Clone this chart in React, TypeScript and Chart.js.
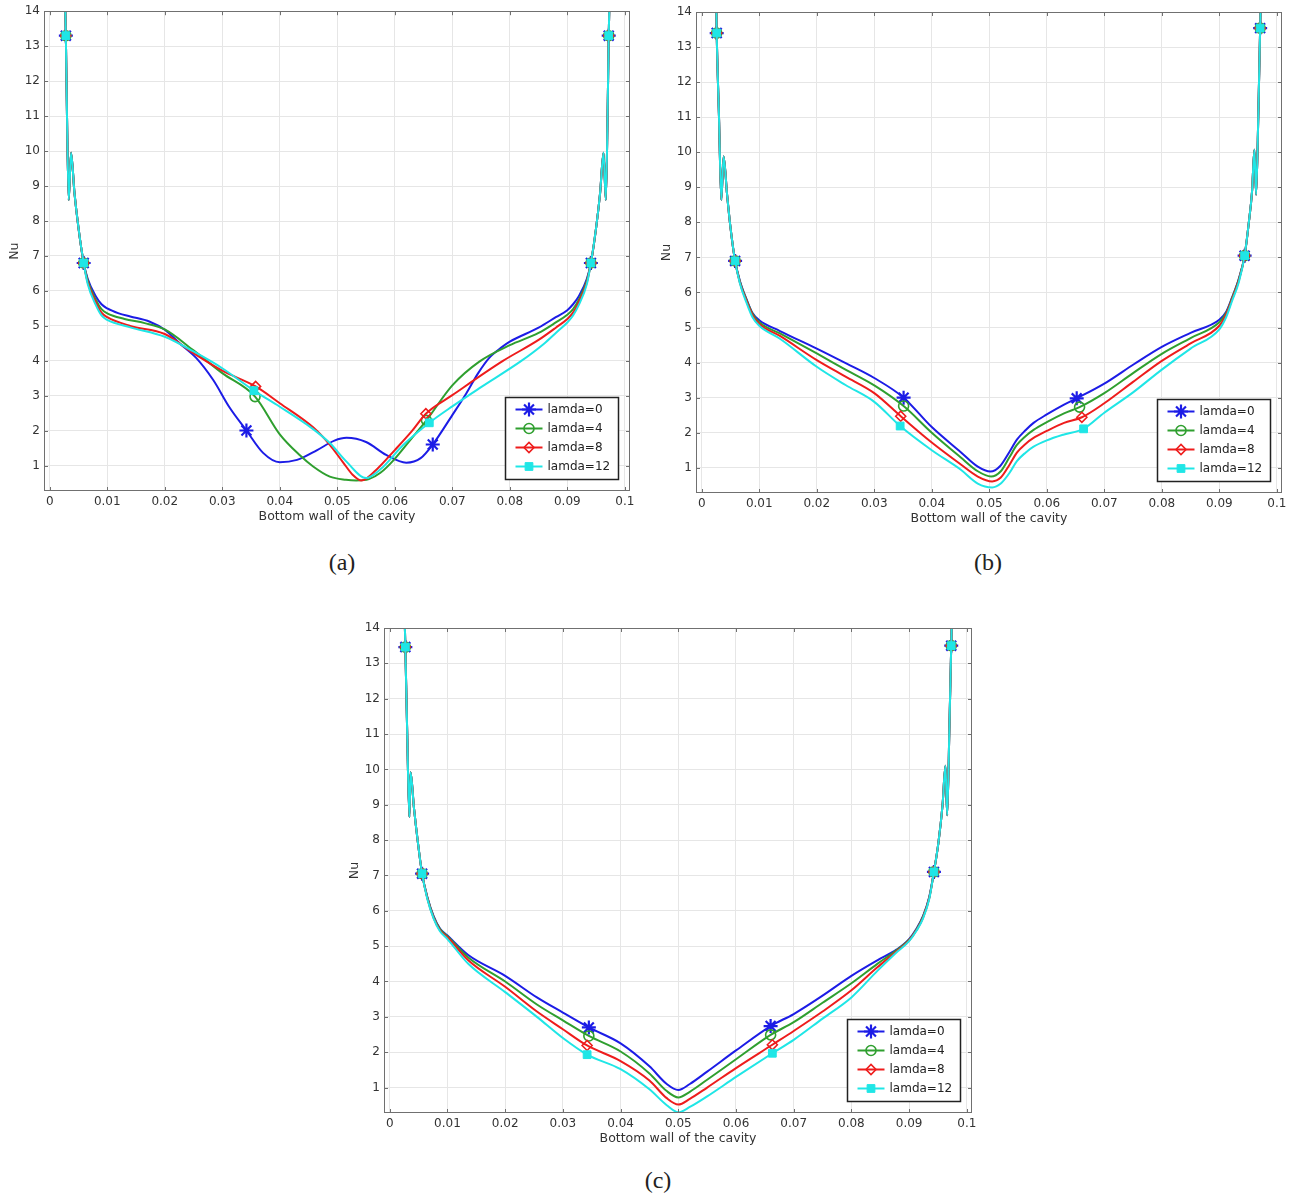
import React, { useEffect, useRef } from 'react';
import { Chart, registerables } from 'chart.js';
import { drawPoint } from 'chart.js/helpers';

Chart.register(...registerables);

type Pt = [number, number];

// ---------- axes ----------
const X_MIN = -0.001;
const X_MAX = 0.1009;
const Y_MIN = 0.28;
const Y_MAX = 14;
const X_TICKS = [0, 0.01, 0.02, 0.03, 0.04, 0.05, 0.06, 0.07, 0.08, 0.09, 0.1];
const X_TICK_LABELS = ['0', '0.01', '0.02', '0.03', '0.04', '0.05', '0.06', '0.07', '0.08', '0.09', '0.1'];
const Y_TICKS = [1, 2, 3, 4, 5, 6, 7, 8, 9, 10, 11, 12, 13, 14];
const Y_TICK_LABELS = ['1', '2', '3', '4', '5', '6', '7', '8', '9', '10', '11', '12', '13', '14'];
const X_TITLE = 'Bottom wall of the cavity';
const Y_TITLE = 'Nu';
const SERIES_LABELS = ['lamda=0', 'lamda=4', 'lamda=8', 'lamda=12'];
const PANEL_LABELS = ['(a)', '(b)', '(c)'];

// ---------- panel (a) ----------
const A_WALL_L: Pt[] = [[0.0025, 15.5], [0.0028, 13.3], [0.0030, 11.0], [0.0033, 8.6], [0.0037, 9.95], [0.0043, 8.8], [0.0050, 7.8], [0.0059, 6.8]];
const A_WALL_R: Pt[] = [[0.0941, 6.8], [0.0950, 7.8], [0.0957, 8.8], [0.0963, 9.95], [0.0967, 8.6], [0.0970, 11.0], [0.0972, 13.3], [0.0975, 15.5]];
const A_L0: Pt[] = [[0.0066, 6.35], [0.0080, 5.85], [0.0090, 5.62], [0.010, 5.5], [0.012, 5.36], [0.014, 5.27], [0.0174, 5.12], [0.020, 4.89], [0.0226, 4.5], [0.0255, 4.08], [0.0284, 3.46], [0.0313, 2.66], [0.0342, 2.01], [0.0371, 1.37], [0.040, 1.1], [0.043, 1.17], [0.0465, 1.45], [0.0495, 1.72], [0.0516, 1.8], [0.055, 1.68], [0.0585, 1.31], [0.062, 1.09], [0.0645, 1.22], [0.0666, 1.61], [0.070, 2.45], [0.0724, 3.06], [0.0745, 3.65], [0.0765, 4.1], [0.0785, 4.38], [0.080, 4.55], [0.085, 4.95], [0.088, 5.25], [0.090, 5.45], [0.091, 5.62], [0.092, 5.85], [0.0934, 6.35]];
const A_L4: Pt[] = [[0.0066, 6.3], [0.0080, 5.75], [0.0090, 5.48], [0.010, 5.36], [0.013, 5.2], [0.0165, 5.08], [0.020, 4.9], [0.025, 4.3], [0.030, 3.65], [0.0357, 2.98], [0.040, 1.9], [0.0435, 1.3], [0.0458, 0.98], [0.0487, 0.69], [0.0515, 0.6], [0.0533, 0.58], [0.0555, 0.62], [0.0575, 0.8], [0.060, 1.2], [0.063, 1.8], [0.0655, 2.3], [0.070, 3.3], [0.0747, 3.98], [0.080, 4.45], [0.085, 4.8], [0.088, 5.1], [0.090, 5.32], [0.091, 5.48], [0.092, 5.75], [0.0934, 6.3]];
const A_L8: Pt[] = [[0.0066, 6.25], [0.0080, 5.68], [0.0090, 5.38], [0.010, 5.25], [0.014, 5.0], [0.020, 4.77], [0.025, 4.22], [0.030, 3.72], [0.0358, 3.27], [0.040, 2.79], [0.0458, 2.1], [0.0487, 1.6], [0.051, 1.1], [0.0527, 0.74], [0.0542, 0.58], [0.0568, 0.89], [0.060, 1.45], [0.063, 2.0], [0.0654, 2.49], [0.070, 3.02], [0.0788, 4.0], [0.085, 4.6], [0.088, 4.95], [0.090, 5.2], [0.091, 5.38], [0.092, 5.68], [0.0934, 6.25]];
const A_L12: Pt[] = [[0.0066, 6.2], [0.0080, 5.6], [0.0090, 5.3], [0.010, 5.17], [0.014, 4.96], [0.020, 4.69], [0.025, 4.27], [0.030, 3.79], [0.0355, 3.15], [0.040, 2.69], [0.0458, 2.05], [0.0487, 1.65], [0.0516, 1.12], [0.055, 0.65], [0.0575, 0.9], [0.0615, 1.6], [0.066, 2.23], [0.070, 2.7], [0.075, 3.25], [0.082, 4.0], [0.086, 4.5], [0.088, 4.8], [0.090, 5.1], [0.091, 5.3], [0.092, 5.6], [0.0934, 6.2]];
const A_MARKS_L0 = [0.0028, 0.0059, 0.0342, 0.0666, 0.0941, 0.0972];
const A_MARKS_L4 = [0.0028, 0.0059, 0.0357, 0.0655, 0.0941, 0.0972];
const A_MARKS_L8 = [0.0028, 0.0059, 0.0358, 0.0654, 0.0941, 0.0972];
const A_MARKS_L12 = [0.0028, 0.0059, 0.0355, 0.066, 0.0941, 0.0972];

// ---------- panel (b) ----------
const B_WALL_L: Pt[] = [[0.0024, 15.5], [0.0026, 13.4], [0.0030, 11.0], [0.0034, 8.64], [0.0038, 9.88], [0.0044, 8.8], [0.0050, 7.85], [0.0058, 6.9]];
const B_WALL_R: Pt[] = [[0.0944, 7.05], [0.0951, 7.95], [0.0957, 8.9], [0.0961, 10.07], [0.0964, 8.79], [0.0968, 11.2], [0.0971, 13.54], [0.0974, 15.5]];
const B_L0: Pt[] = [[0.0066, 6.35], [0.0078, 5.8], [0.0088, 5.42], [0.010, 5.21], [0.0136, 4.9], [0.020, 4.4], [0.0252, 3.97], [0.030, 3.56], [0.0351, 3.0], [0.040, 2.16], [0.045, 1.45], [0.048, 1.03], [0.0502, 0.89], [0.0519, 1.05], [0.0535, 1.45], [0.0548, 1.8], [0.0563, 2.07], [0.0577, 2.28], [0.060, 2.52], [0.063, 2.8], [0.0652, 2.98], [0.070, 3.4], [0.0752, 3.96], [0.080, 4.45], [0.085, 4.85], [0.090, 5.22], [0.0912, 5.45], [0.0922, 5.85], [0.0934, 6.4]];
const B_L4: Pt[] = [[0.0066, 6.33], [0.0078, 5.78], [0.0088, 5.4], [0.010, 5.15], [0.0136, 4.83], [0.020, 4.26], [0.025, 3.8], [0.030, 3.35], [0.0351, 2.76], [0.040, 2.0], [0.045, 1.3], [0.048, 0.9], [0.0503, 0.75], [0.052, 0.9], [0.0535, 1.3], [0.0548, 1.65], [0.0563, 1.9], [0.0577, 2.08], [0.060, 2.3], [0.063, 2.55], [0.0657, 2.73], [0.070, 3.13], [0.075, 3.7], [0.080, 4.25], [0.085, 4.7], [0.090, 5.15], [0.0912, 5.42], [0.0922, 5.83], [0.0934, 6.38]];
const B_L8: Pt[] = [[0.0066, 6.3], [0.0078, 5.75], [0.0088, 5.36], [0.010, 5.1], [0.0136, 4.76], [0.020, 4.07], [0.025, 3.6], [0.030, 3.13], [0.0346, 2.47], [0.040, 1.72], [0.045, 1.1], [0.048, 0.75], [0.0505, 0.61], [0.052, 0.72], [0.0535, 1.08], [0.0548, 1.43], [0.0563, 1.68], [0.0577, 1.85], [0.060, 2.05], [0.063, 2.28], [0.0661, 2.44], [0.070, 2.84], [0.075, 3.45], [0.080, 4.05], [0.085, 4.55], [0.090, 5.05], [0.0912, 5.38], [0.0922, 5.8], [0.0934, 6.35]];
const B_L12: Pt[] = [[0.0066, 6.28], [0.0078, 5.7], [0.0088, 5.3], [0.010, 5.05], [0.0136, 4.68], [0.020, 3.88], [0.025, 3.36], [0.030, 2.88], [0.0345, 2.19], [0.040, 1.5], [0.045, 0.95], [0.048, 0.55], [0.0505, 0.44], [0.052, 0.55], [0.0535, 0.85], [0.0548, 1.19], [0.0563, 1.43], [0.0577, 1.6], [0.060, 1.78], [0.063, 1.95], [0.0664, 2.11], [0.070, 2.57], [0.075, 3.15], [0.080, 3.8], [0.085, 4.4], [0.090, 4.95], [0.0912, 5.3], [0.0922, 5.75], [0.0934, 6.3]];
const B_MARKS_L0 = [0.0026, 0.0058, 0.0351, 0.0652, 0.0944, 0.0971];
const B_MARKS_L4 = [0.0026, 0.0058, 0.0351, 0.0657, 0.0944, 0.0971];
const B_MARKS_L8 = [0.0026, 0.0058, 0.0346, 0.0661, 0.0944, 0.0971];
const B_MARKS_L12 = [0.0026, 0.0058, 0.0345, 0.0664, 0.0944, 0.0971];

// ---------- panel (c) ----------
const C_WALL_L: Pt[] = [[0.0024, 15.5], [0.0027, 13.46], [0.0030, 11.2], [0.0034, 8.65], [0.0036, 9.92], [0.0042, 8.9], [0.0049, 7.9], [0.0056, 7.05]];
const C_WALL_R: Pt[] = [[0.0943, 7.1], [0.0951, 7.95], [0.0958, 9.0], [0.0963, 10.1], [0.0966, 8.7], [0.0970, 11.3], [0.0973, 13.5], [0.0976, 15.5]];
const C_L0: Pt[] = [[0.0065, 6.4], [0.0076, 5.85], [0.0087, 5.5], [0.010, 5.3], [0.0136, 4.75], [0.020, 4.16], [0.0255, 3.55], [0.030, 3.12], [0.0345, 2.7], [0.040, 2.25], [0.045, 1.6], [0.048, 1.1], [0.050, 0.93], [0.052, 1.1], [0.055, 1.45], [0.060, 2.05], [0.066, 2.74], [0.070, 3.08], [0.075, 3.6], [0.080, 4.16], [0.0845, 4.6], [0.0878, 4.9], [0.090, 5.2], [0.0913, 5.5], [0.0924, 5.85], [0.0935, 6.4]];
const C_L4: Pt[] = [[0.0065, 6.38], [0.0076, 5.83], [0.0087, 5.48], [0.010, 5.28], [0.0136, 4.68], [0.020, 4.0], [0.0255, 3.35], [0.030, 2.9], [0.0345, 2.46], [0.040, 2.02], [0.045, 1.4], [0.048, 0.9], [0.050, 0.72], [0.052, 0.88], [0.055, 1.22], [0.060, 1.8], [0.066, 2.49], [0.070, 2.85], [0.075, 3.4], [0.080, 3.95], [0.0845, 4.5], [0.0878, 4.88], [0.090, 5.18], [0.0913, 5.48], [0.0924, 5.83], [0.0935, 6.38]];
const C_L8: Pt[] = [[0.0065, 6.36], [0.0076, 5.8], [0.0087, 5.45], [0.010, 5.25], [0.0136, 4.6], [0.020, 3.85], [0.0255, 3.15], [0.030, 2.65], [0.0342, 2.19], [0.040, 1.75], [0.045, 1.2], [0.048, 0.7], [0.050, 0.52], [0.052, 0.68], [0.055, 1.0], [0.060, 1.55], [0.0663, 2.21], [0.070, 2.6], [0.075, 3.15], [0.080, 3.75], [0.0845, 4.4], [0.0878, 4.85], [0.090, 5.16], [0.0913, 5.46], [0.0924, 5.8], [0.0935, 6.36]];
const C_L12: Pt[] = [[0.0065, 6.34], [0.0076, 5.78], [0.0087, 5.42], [0.010, 5.2], [0.0136, 4.5], [0.020, 3.7], [0.0255, 3.0], [0.030, 2.4], [0.0342, 1.93], [0.040, 1.52], [0.045, 0.95], [0.048, 0.5], [0.050, 0.3], [0.052, 0.45], [0.055, 0.75], [0.060, 1.3], [0.0663, 1.97], [0.070, 2.35], [0.075, 2.95], [0.080, 3.55], [0.0845, 4.3], [0.0878, 4.82], [0.090, 5.14], [0.0913, 5.44], [0.0924, 5.78], [0.0935, 6.34]];
const C_MARKS_L0 = [0.0027, 0.0056, 0.0345, 0.066, 0.0943, 0.0973];
const C_MARKS_L4 = [0.0027, 0.0056, 0.0345, 0.066, 0.0943, 0.0973];
const C_MARKS_L8 = [0.0027, 0.0056, 0.0342, 0.0663, 0.0943, 0.0973];
const C_MARKS_L12 = [0.0027, 0.0056, 0.0342, 0.0663, 0.0943, 0.0973];

// ---------- styles ----------
const COLORS = ['#1c1ce6', '#2f9f2f', '#ee1c1c', '#1fe6e6'];
const POINT_STYLES = ['star', 'circle', 'rectRot', 'rect'];
const POINT_RADII = [7, 5, 5, 5.5];
const POINT_BW = [2.2, 1.6, 1.6, 1];
const POINT_FILL = ['#1c1ce6', 'rgba(0,0,0,0)', 'rgba(0,0,0,0)', '#1fe6e6'];
const FONT = '"DejaVu Sans", "Noto Sans", sans-serif';

type Series = { points: Pt[]; marks: number[] };
type PanelCfg = {
  left: number; top: number; w: number; h: number;
  pad: { left: number; top: number; right: number; bottom: number };
  series: Series[];
};

const PANELS: PanelCfg[] = [
  {
    left: 0, top: 0, w: 640, h: 540,
    pad: { left: 0, top: 11, right: 10, bottom: 16 },
    series: [
      { points: [...A_WALL_L, ...A_L0, ...A_WALL_R], marks: A_MARKS_L0 },
      { points: [...A_WALL_L, ...A_L4, ...A_WALL_R], marks: A_MARKS_L4 },
      { points: [...A_WALL_L, ...A_L8, ...A_WALL_R], marks: A_MARKS_L8 },
      { points: [...A_WALL_L, ...A_L12, ...A_WALL_R], marks: A_MARKS_L12 },
    ],
  },
  {
    left: 652, top: 0, w: 642, h: 540,
    pad: { left: 0, top: 12, right: 12, bottom: 14 },
    series: [
      { points: [...B_WALL_L, ...B_L0, ...B_WALL_R], marks: B_MARKS_L0 },
      { points: [...B_WALL_L, ...B_L4, ...B_WALL_R], marks: B_MARKS_L4 },
      { points: [...B_WALL_L, ...B_L8, ...B_WALL_R], marks: B_MARKS_L8 },
      { points: [...B_WALL_L, ...B_L12, ...B_WALL_R], marks: B_MARKS_L12 },
    ],
  },
  {
    left: 340, top: 616, w: 642, h: 540,
    pad: { left: 0, top: 12, right: 10, bottom: 10 },
    series: [
      { points: [...C_WALL_L, ...C_L0, ...C_WALL_R], marks: C_MARKS_L0 },
      { points: [...C_WALL_L, ...C_L4, ...C_WALL_R], marks: C_MARKS_L4 },
      { points: [...C_WALL_L, ...C_L8, ...C_WALL_R], marks: C_MARKS_L8 },
      { points: [...C_WALL_L, ...C_L12, ...C_WALL_R], marks: C_MARKS_L12 },
    ],
  },
];

const LABEL_POS = [
  { x: 342, y: 562 },
  { x: 988, y: 562 },
  { x: 658, y: 1180 },
];

const framePlugin = {
  id: 'frameAndLegend',
  afterDraw(chart: any) {
    const { ctx, chartArea: ca } = chart;
    const xs = chart.scales.x;
    const ys = chart.scales.y;
    ctx.save();
    // frame
    ctx.strokeStyle = '#707070';
    ctx.lineWidth = 1;
    ctx.strokeRect(Math.round(ca.left) + 0.5, Math.round(ca.top) + 0.5, Math.round(ca.right - ca.left) - 1, Math.round(ca.bottom - ca.top) - 1);
    // inward tick marks
    ctx.beginPath();
    X_TICKS.forEach((v) => {
      const px = Math.round(xs.getPixelForValue(v)) + 0.5;
      ctx.moveTo(px, ca.top); ctx.lineTo(px, ca.top + 4);
      ctx.moveTo(px, ca.bottom); ctx.lineTo(px, ca.bottom - 4);
    });
    Y_TICKS.forEach((v) => {
      const py = Math.round(ys.getPixelForValue(v)) + 0.5;
      ctx.moveTo(ca.left, py); ctx.lineTo(ca.left + 4, py);
      ctx.moveTo(ca.right, py); ctx.lineTo(ca.right - 4, py);
    });
    ctx.stroke();
    // legend box
    const w = 113;
    const h = 82;
    const lx = Math.round(ca.right - 12 - w) + 0.5;
    const ly = Math.round(ca.bottom - 12 - h) + 0.5;
    ctx.fillStyle = '#ffffff';
    ctx.fillRect(lx, ly, w, h);
    ctx.strokeStyle = '#222222';
    ctx.lineWidth = 1.5;
    ctx.strokeRect(lx, ly, w, h);
    chart.data.datasets.forEach((ds: any, i: number) => {
      const yy = ly + 12 + i * 19;
      ctx.strokeStyle = COLORS[i];
      ctx.lineWidth = 2;
      ctx.beginPath();
      ctx.moveTo(lx + 10, yy);
      ctx.lineTo(lx + 37, yy);
      ctx.stroke();
      ctx.fillStyle = POINT_FILL[i];
      ctx.strokeStyle = COLORS[i];
      ctx.lineWidth = POINT_BW[i];
      drawPoint(ctx, { pointStyle: POINT_STYLES[i] as any, radius: POINT_RADII[i], borderWidth: POINT_BW[i], rotation: 0 } as any, lx + 23.5, yy);
      ctx.fillStyle = '#222222';
      ctx.font = '12px ' + FONT;
      ctx.textBaseline = 'middle';
      ctx.textAlign = 'left';
      ctx.fillText(ds.label, lx + 42, yy + 0.5);
    });
    ctx.restore();
  },
};

function Panel({ cfg }: { cfg: PanelCfg }) {
  const ref = useRef<HTMLCanvasElement | null>(null);
  useEffect(() => {
    if (!ref.current) return;
    const chart = new Chart(ref.current, {
      type: 'line',
      data: {
        datasets: cfg.series.map((s, i) => ({
          label: SERIES_LABELS[i],
          data: s.points.map(([x, y]) => ({ x, y })),
          borderColor: COLORS[i],
          backgroundColor: POINT_FILL[i],
          borderWidth: 2,
          fill: false,
          cubicInterpolationMode: 'monotone' as const,
          pointStyle: POINT_STYLES[i] as any,
          pointRadius: (c: any) => (c.raw && s.marks.includes(c.raw.x) ? POINT_RADII[i] : 0),
          pointBorderColor: COLORS[i],
          pointBackgroundColor: POINT_FILL[i],
          pointBorderWidth: POINT_BW[i],
          order: 3 - i,
        })),
      },
      options: {
        animation: false,
        responsive: false,
        maintainAspectRatio: false,
        events: [],
        layout: { padding: cfg.pad },
        plugins: { legend: { display: false }, tooltip: { enabled: false } },
        scales: {
          x: {
            type: 'linear',
            min: X_MIN,
            max: X_MAX,
            afterBuildTicks: (sc: any) => { sc.ticks = X_TICKS.map((v) => ({ value: v })); },
            afterFit: (sc: any) => { sc.height = 33; },
            ticks: {
              callback: (_v: any, i: number) => X_TICK_LABELS[i],
              autoSkip: false, maxRotation: 0, minRotation: 0,
              padding: 4, color: '#333333', font: { family: FONT, size: 12 },
            },
            grid: { color: '#e6e6e6', lineWidth: 1, drawTicks: false },
            border: { display: false },
            title: { display: true, text: X_TITLE, color: '#333333', font: { family: FONT, size: 12.5 }, padding: { top: 0, bottom: 0 } },
          },
          y: {
            type: 'linear',
            min: Y_MIN,
            max: Y_MAX,
            afterBuildTicks: (sc: any) => { sc.ticks = Y_TICKS.map((v) => ({ value: v })); },
            afterFit: (sc: any) => { sc.width = 44; },
            ticks: {
              callback: (_v: any, i: number) => Y_TICK_LABELS[i],
              autoSkip: false,
              padding: 4, color: '#333333', font: { family: FONT, size: 12 },
            },
            grid: { color: '#e6e6e6', lineWidth: 1, drawTicks: false },
            border: { display: false },
            title: { display: true, text: Y_TITLE, color: '#333333', font: { family: FONT, size: 12.5 }, padding: { top: 7, bottom: 0 } },
          },
        },
      } as any,
      plugins: [framePlugin],
    });
    return () => chart.destroy();
  }, [cfg]);
  return (
    <canvas
      ref={ref}
      width={cfg.w}
      height={cfg.h}
      style={{ position: 'absolute', left: cfg.left, top: cfg.top, width: cfg.w, height: cfg.h }}
    />
  );
}

export default function App() {
  return (
    <div style={{ position: 'absolute', left: 0, top: 0, width: 1294, height: 1194, background: '#ffffff', overflow: 'hidden' }}>
      {PANELS.map((p, i) => (
        <Panel key={i} cfg={p} />
      ))}
      {PANEL_LABELS.map((t, i) => (
        <div
          key={t}
          style={{
            position: 'absolute',
            left: LABEL_POS[i].x,
            top: LABEL_POS[i].y,
            transform: 'translate(-50%, -50%)',
            fontFamily: '"Liberation Serif", "Times New Roman", serif',
            fontSize: 24,
            lineHeight: 1,
            color: '#222222',
            whiteSpace: 'nowrap',
          }}
        >
          {t}
        </div>
      ))}
    </div>
  );
}
